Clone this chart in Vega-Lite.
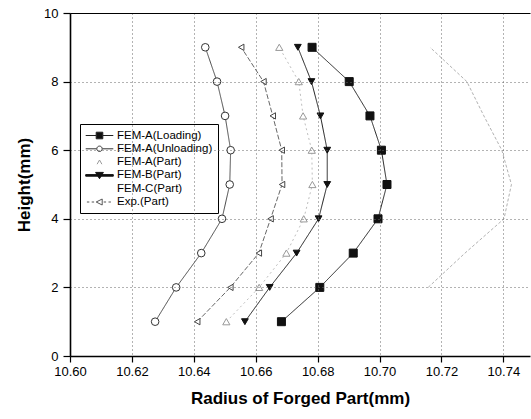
{
  "$schema": "https://vega.github.io/schema/vega-lite/v6.json",
  "width": 460,
  "height": 343,
  "autosize": "none",
  "padding": {"left": 70, "top": 13, "right": 1, "bottom": 63},
  "background": "white",
  "config": {
    "view": {"stroke": null},
    "font": "Liberation Sans",
    "legend": {
      "orient": "none",
      "legendX": 10,
      "legendY": 111,
      "strokeColor": "black",
      "fillColor": "white",
      "padding": 5,
      "symbolOffset": 8,
      "labelOffset": 11,
      "labelFontSize": 11.5,
      "labelFont": "Liberation Sans",
      "labelColor": "black",
      "rowPadding": 1.3,
      "symbolSize": 144,
      "symbolStrokeWidth": 1,
      "symbolOpacity": 1,
      "cornerRadius": 0
    }
  },
  "data": {
    "values": [
      {"series": "FEM-A(Loading)", "h": 1, "r": 10.6683},
      {"series": "FEM-A(Loading)", "h": 2, "r": 10.6807},
      {"series": "FEM-A(Loading)", "h": 3, "r": 10.6915},
      {"series": "FEM-A(Loading)", "h": 4, "r": 10.6995},
      {"series": "FEM-A(Loading)", "h": 5, "r": 10.7024},
      {"series": "FEM-A(Loading)", "h": 6, "r": 10.7006},
      {"series": "FEM-A(Loading)", "h": 7, "r": 10.6969},
      {"series": "FEM-A(Loading)", "h": 8, "r": 10.6902},
      {"series": "FEM-A(Loading)", "h": 9, "r": 10.6782},
      {"series": "FEM-A(Unloading)", "h": 1, "r": 10.6275},
      {"series": "FEM-A(Unloading)", "h": 2, "r": 10.6343},
      {"series": "FEM-A(Unloading)", "h": 3, "r": 10.6424},
      {"series": "FEM-A(Unloading)", "h": 4, "r": 10.6491},
      {"series": "FEM-A(Unloading)", "h": 5, "r": 10.6516},
      {"series": "FEM-A(Unloading)", "h": 6, "r": 10.6519},
      {"series": "FEM-A(Unloading)", "h": 7, "r": 10.6501},
      {"series": "FEM-A(Unloading)", "h": 8, "r": 10.6475},
      {"series": "FEM-A(Unloading)", "h": 9, "r": 10.6437},
      {"series": "FEM-A(Part)", "h": 1, "r": 10.6505},
      {"series": "FEM-A(Part)", "h": 2, "r": 10.6611},
      {"series": "FEM-A(Part)", "h": 3, "r": 10.6699},
      {"series": "FEM-A(Part)", "h": 4, "r": 10.6755},
      {"series": "FEM-A(Part)", "h": 5, "r": 10.6783},
      {"series": "FEM-A(Part)", "h": 6, "r": 10.6781},
      {"series": "FEM-A(Part)", "h": 7, "r": 10.6753},
      {"series": "FEM-A(Part)", "h": 8, "r": 10.6739},
      {"series": "FEM-A(Part)", "h": 9, "r": 10.6676},
      {"series": "FEM-B(Part)", "h": 1, "r": 10.6565},
      {"series": "FEM-B(Part)", "h": 2, "r": 10.6645},
      {"series": "FEM-B(Part)", "h": 3, "r": 10.6732},
      {"series": "FEM-B(Part)", "h": 4, "r": 10.6803},
      {"series": "FEM-B(Part)", "h": 5, "r": 10.6831},
      {"series": "FEM-B(Part)", "h": 6, "r": 10.6831},
      {"series": "FEM-B(Part)", "h": 7, "r": 10.6809},
      {"series": "FEM-B(Part)", "h": 8, "r": 10.6780},
      {"series": "FEM-B(Part)", "h": 9, "r": 10.6736},
      {"series": "FEM-C(Part)", "h": 2, "r": 10.7157},
      {"series": "FEM-C(Part)", "h": 3, "r": 10.7276},
      {"series": "FEM-C(Part)", "h": 4, "r": 10.7402},
      {"series": "FEM-C(Part)", "h": 5, "r": 10.7426},
      {"series": "FEM-C(Part)", "h": 6, "r": 10.7395},
      {"series": "FEM-C(Part)", "h": 7, "r": 10.7337},
      {"series": "FEM-C(Part)", "h": 8, "r": 10.7282},
      {"series": "FEM-C(Part)", "h": 9, "r": 10.7163},
      {"series": "Exp.(Part)", "h": 1, "r": 10.6411},
      {"series": "Exp.(Part)", "h": 2, "r": 10.6518},
      {"series": "Exp.(Part)", "h": 3, "r": 10.6610},
      {"series": "Exp.(Part)", "h": 4, "r": 10.6648},
      {"series": "Exp.(Part)", "h": 5, "r": 10.6685},
      {"series": "Exp.(Part)", "h": 6, "r": 10.6684},
      {"series": "Exp.(Part)", "h": 7, "r": 10.6655},
      {"series": "Exp.(Part)", "h": 8, "r": 10.6625},
      {"series": "Exp.(Part)", "h": 9, "r": 10.6553}
    ]
  },
  "layer": [
    {
      "mark": {"type": "line", "clip": true},
      "encoding": {
        "x": {
          "field": "r", "type": "quantitative",
          "scale": {"domain": [10.6, 10.7486], "nice": false, "zero": false},
          "axis": {
            "orient": "bottom",
            "values": [10.6, 10.62, 10.64, 10.66, 10.68, 10.7, 10.72, 10.74],
            "format": ".2f",
            "title": "Radius of Forged Part(mm)",
            "titleFont": "Liberation Sans",
            "titleFontSize": 17,
            "titleFontWeight": "bold",
            "titleColor": "black",
            "titlePadding": 12,
            "labelFont": "Liberation Sans",
            "labelFontSize": 13,
            "labelColor": "black",
            "labelPadding": 3,
            "labelFlush": false,
            "labelOverlap": false,
            "domainColor": "black",
            "domainWidth": 1.6,
            "tickColor": "black",
            "tickWidth": 1.2,
            "tickSize": 6,
            "grid": true,
            "gridColor": "#666666",
            "gridDash": [1, 3],
            "gridWidth": 1,
            "gridOpacity": 1,
            "zindex": 1
          }
        },
        "y": {
          "field": "h", "type": "quantitative",
          "scale": {"domain": [0, 10], "nice": false, "zero": true},
          "axis": {
            "values": [0, 1, 2, 3, 4, 5, 6, 7, 8, 9, 10],
            "labelExpr": "datum.value % 2 === 0 ? datum.label : ''",
            "title": "Height(mm)",
            "titleFont": "Liberation Sans",
            "titleFontSize": 17,
            "titleFontWeight": "bold",
            "titleColor": "black",
            "titlePadding": 10,
            "labelFont": "Liberation Sans",
            "labelFontSize": 13,
            "labelColor": "black",
            "labelPadding": 5,
            "labelFlush": false,
            "labelOverlap": false,
            "domainColor": "black",
            "domainWidth": 1.6,
            "tickColor": "black",
            "tickWidth": 1.2,
            "tickSize": {"condition": {"test": "datum.value % 2 === 0", "value": 7}, "value": 3},
            "grid": true,
            "gridColor": {"condition": {"test": "datum.value === 10", "value": "black"}, "value": "#666666"},
            "gridDash": {"condition": {"test": "datum.value === 10", "value": []}, "value": [1, 3]},
            "gridWidth": {"condition": {"test": "datum.value === 10", "value": 1.2}, "value": 1},
            "gridOpacity": {"condition": {"test": "datum.value % 2 === 0", "value": 1}, "value": 0},
            "zindex": 1
          }
        },
        "order": {"field": "h", "type": "quantitative"},
        "stroke": {
          "field": "series", "type": "nominal",
          "scale": {
            "domain": ["FEM-A(Loading)", "FEM-A(Unloading)", "FEM-A(Part)", "FEM-B(Part)", "FEM-C(Part)", "Exp.(Part)"],
            "range": ["#222222", "#444444", "#bbbbbb", "#111111", "#aaaaaa", "#555555"]
          },
          "legend": null
        },
        "strokeDash": {
          "field": "series", "type": "nominal",
          "scale": {
            "domain": ["FEM-A(Loading)", "FEM-A(Unloading)", "FEM-A(Part)", "FEM-B(Part)", "FEM-C(Part)", "Exp.(Part)"],
            "range": [[1, 0], [1, 0], [2, 3], [1, 0], [3, 2], [5, 2]]
          },
          "legend": null
        },
        "strokeWidth": {
          "field": "series", "type": "ordinal",
          "scale": {
            "domain": ["FEM-A(Loading)", "FEM-A(Unloading)", "FEM-A(Part)", "FEM-B(Part)", "FEM-C(Part)", "Exp.(Part)"],
            "range": [1, 0.9, 0.8, 1.6, 0.8, 0.9]
          },
          "legend": null
        }
      }
    },
    {
      "transform": [{"filter": "datum.series !== 'FEM-C(Part)'"}],
      "mark": {"type": "point", "opacity": 1, "strokeWidth": 1, "clip": true},
      "encoding": {
        "x": {"field": "r", "type": "quantitative"},
        "y": {"field": "h", "type": "quantitative"},
        "shape": {
          "field": "series", "type": "nominal",
          "scale": {
            "domain": ["FEM-A(Loading)", "FEM-A(Unloading)", "FEM-A(Part)", "FEM-B(Part)", "Exp.(Part)"],
            "range": ["square", "circle", "triangle-up", "triangle-down", "triangle-left"]
          },
          "legend": null
        },
        "fill": {
          "field": "series", "type": "nominal",
          "scale": {
            "domain": ["FEM-A(Loading)", "FEM-A(Unloading)", "FEM-A(Part)", "FEM-B(Part)", "Exp.(Part)"],
            "range": ["#111111", "white", "white", "#111111", "white"]
          },
          "legend": null
        },
        "stroke": {
          "field": "series", "type": "nominal",
          "scale": {
            "domain": ["FEM-A(Loading)", "FEM-A(Unloading)", "FEM-A(Part)", "FEM-B(Part)", "Exp.(Part)"],
            "range": ["#111111", "#333333", "#999999", "#111111", "#444444"]
          },
          "legend": null
        },
        "size": {
          "field": "series", "type": "ordinal",
          "scale": {
            "domain": ["FEM-A(Loading)", "FEM-A(Unloading)", "FEM-A(Part)", "FEM-B(Part)", "Exp.(Part)"],
            "range": [64, 40, 30, 55, 50]
          },
          "legend": null
        }
      }
    },
    {
      "transform": [{"filter": "datum.h > 100"}],
      "mark": {"type": "point", "size": 144, "strokeWidth": 1, "opacity": 1},
      "encoding": {
        "x": {"field": "r", "type": "quantitative"},
        "y": {"field": "h", "type": "quantitative"},
        "shape": {
          "field": "series", "type": "nominal",
          "scale": {
            "domain": ["FEM-A(Loading)", "FEM-A(Unloading)", "FEM-A(Part)", "FEM-B(Part)", "FEM-C(Part)", "Exp.(Part)"],
            "range": [
              "M-2.3,0H-0.55M0.55,0H2.3M-0.55,-0.55H0.55V0.55H-0.55Z",
              "M-2.3,0H-0.5M0.5,0H2.3M0.45,0A0.45,0.45,0,1,1,-0.45,0A0.45,0.45,0,1,1,0.45,0Z",
              "M-0.4,0.35L0,-0.35L0.4,0.35",
              "M-2.3,-0.13H2.3V0.13H-2.3ZM-0.65,-0.5H0.65L0,0.55Z",
              "M0,0Z",
              "M-2.1,0H-1.7M-1.3,0H-0.9M0.7,0H1.1M1.5,0H1.9M-0.55,0L0.45,-0.5L0.45,0.5Z"
            ]
          },
          "legend": {"title": null, "orient": "none", "legendX": 10, "legendY": 111, "symbolOpacity": 1}
        },
        "fill": {
          "field": "series", "type": "nominal",
          "scale": {
            "domain": ["FEM-A(Loading)", "FEM-A(Unloading)", "FEM-A(Part)", "FEM-B(Part)", "FEM-C(Part)", "Exp.(Part)"],
            "range": ["#111111", "white", "transparent", "#111111", "transparent", "white"]
          },
          "legend": {"title": null, "orient": "none", "legendX": 10, "legendY": 111, "symbolOpacity": 1}
        },
        "stroke": {
          "field": "series", "type": "nominal",
          "scale": {
            "domain": ["FEM-A(Loading)", "FEM-A(Unloading)", "FEM-A(Part)", "FEM-B(Part)", "FEM-C(Part)", "Exp.(Part)"],
            "range": ["#222222", "#333333", "#999999", "#111111", "#999999", "#555555"]
          },
          "legend": {"title": null, "orient": "none", "legendX": 10, "legendY": 111, "symbolOpacity": 1}
        }
      }
    }
  ],
  "resolve": {
    "scale": {"shape": "independent", "fill": "independent", "stroke": "independent", "size": "independent"}
  }
}
